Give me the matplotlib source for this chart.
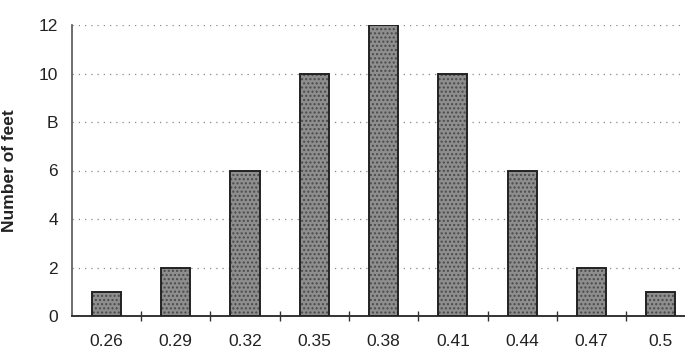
import numpy as np
import matplotlib
matplotlib.use("Agg")
import matplotlib.pyplot as plt
from matplotlib.ticker import FixedLocator

plt.rcParams['font.family'] = ['Liberation Sans', 'DejaVu Sans']

# data
labels = ["0.26", "0.29", "0.32", "0.35", "0.38", "0.41", "0.44", "0.47", "0.5"]
counts = [1, 2, 6, 10, 12, 10, 6, 2, 1]
y_ticks = [0, 2, 4, 6, 8, 10, 12]
y_tick_labels = ["0", "2", "4", "6", "B", "10", "12"]

fig = plt.figure(figsize=(6.85, 3.57), dpi=100)
ax = fig.add_axes([71.7 / 685, 41 / 357, (685 - 71.7) / 685, 291 / 357])

x = np.arange(len(labels))

# speckled gray fill, then the dark outline on top
ax.bar(x, counts, width=0.42, color="#8e8e8e", hatch="....",
       edgecolor="#4a4a4a", linewidth=0, zorder=2)
ax.bar(x, counts, width=0.42, fill=False, edgecolor="#222222",
       linewidth=1.4, zorder=3)

ax.set_xlim(-0.5, -0.5 + (685 - 71.7) / 69.3)
ax.set_ylim(0, 12)

ax.set_xticks(x)
ax.set_xticklabels(labels, fontsize=12.5, color="#222222")
ax.tick_params(axis="x", which="major", length=0, pad=13)
ax.xaxis.set_minor_locator(FixedLocator(np.arange(0.5, len(labels) - 1, 1)))
ax.tick_params(axis="x", which="minor", direction="inout", length=7,
               width=1.0, color="#333333")

ax.set_yticks(y_ticks)
ax.set_yticklabels(y_tick_labels, fontsize=12.5, color="#222222")
ax.tick_params(axis="y", length=0, pad=10)

ax.grid(axis="y", linestyle=(0, (1, 4)), color="#888888", linewidth=0.9, zorder=0)
ax.set_axisbelow(True)

for side in ["top", "right"]:
    ax.spines[side].set_visible(False)
ax.spines["left"].set_color("#555555")
ax.spines["bottom"].set_color("#333333")
ax.spines["left"].set_linewidth(1.2)
ax.spines["bottom"].set_linewidth(1.4)

ax.set_ylabel("Number of feet", fontsize=12.5, fontweight="bold", color="#222222")
ax.yaxis.set_label_coords(-(71.7 - 17) / 613.3, (357 - 171 - 41) / 291)

fig.savefig("out.png", dpi=100)
